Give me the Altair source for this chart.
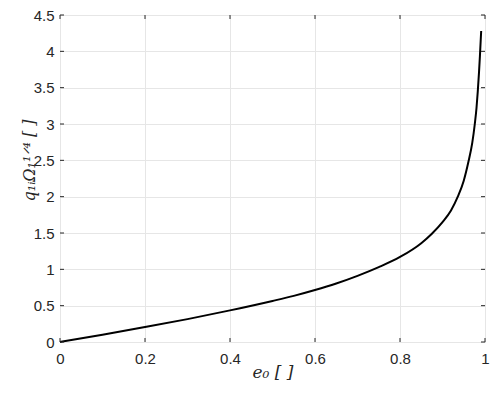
import altair as alt
import pandas as pd

# data
E0 = [0, 0.1, 0.2, 0.3, 0.4, 0.5, 0.55, 0.6, 0.65, 0.7, 0.75, 0.8, 0.85, 0.875, 0.9, 0.92, 0.936, 0.95, 0.961, 0.97, 0.976, 0.98, 0.983, 0.986, 0.988, 0.991]
Q = [0, 0.10, 0.205, 0.315, 0.435, 0.565, 0.635, 0.715, 0.805, 0.91, 1.03, 1.17, 1.36, 1.49, 1.65, 1.81, 2.0, 2.22, 2.48, 2.74, 3.0, 3.22, 3.45, 3.72, 3.93, 4.28]
XTICKS = [0, 0.2, 0.4, 0.6, 0.8, 1.0]
YTICKS = [0, 0.5, 1, 1.5, 2, 2.5, 3, 3.5, 4, 4.5]

W, H = 425, 327
TL = 4
AXC = "#262626"
GRID = "#e6e6e6"
LF = "Liberation Sans"
TF = "DejaVu Serif"

df = pd.DataFrame({"e": E0, "q": Q})
xt = pd.DataFrame({"e": XTICKS})
yt = pd.DataFrame({"q": YTICKS})

xs = alt.Scale(domain=[0, 1], nice=False, zero=False)
ys = alt.Scale(domain=[0, 4.5], nice=False, zero=False)

xaxis = alt.Axis(values=XTICKS, format=".1~f", grid=True, gridColor=GRID, gridWidth=1,
                 ticks=False, domain=False, labelFont=LF, labelFontSize=15, labelColor=AXC,
                 labelPadding=9, labelOverlap=False, labelFlush=False,
                 title="e₀  [ ]", titleFont=TF, titleFontStyle="italic",
                 titleFontWeight="normal", titleFontSize=17, titleColor=AXC,
                 titleY=30, titleBaseline="middle")
yaxis = alt.Axis(values=YTICKS, format=".1~f", grid=True, gridColor=GRID, gridWidth=1,
                 ticks=False, domain=False, labelFont=LF, labelFontSize=15, labelColor=AXC,
                 labelPadding=6, labelOverlap=False, labelFlush=False,
                 title="q₁ᵢΩ₁¹ᐟ⁴ [ ]", titleFont=TF, titleFontStyle="italic",
                 titleFontWeight="normal", titleFontSize=16, titleColor=AXC,
                 titleX=-31, titleY=145, titleAlign="center", titleBaseline="middle",
                 titleAngle=270)

line = alt.Chart(df).mark_line(color="black", strokeWidth=2, interpolate="monotone").encode(
    x=alt.X("e:Q", scale=xs, axis=xaxis),
    y=alt.Y("q:Q", scale=ys, axis=yaxis),
)

xb = alt.Chart(xt).mark_rule(color=AXC, strokeWidth=1).encode(
    x=alt.X("e:Q", scale=xs, axis=xaxis), y=alt.value(H), y2=alt.value(H - TL))
xtp = alt.Chart(xt).mark_rule(color=AXC, strokeWidth=1).encode(
    x=alt.X("e:Q", scale=xs, axis=xaxis), y=alt.value(0), y2=alt.value(TL))
yl = alt.Chart(yt).mark_rule(color=AXC, strokeWidth=1).encode(
    y=alt.Y("q:Q", scale=ys, axis=yaxis), x=alt.value(0), x2=alt.value(TL))
yr = alt.Chart(yt).mark_rule(color=AXC, strokeWidth=1).encode(
    y=alt.Y("q:Q", scale=ys, axis=yaxis), x=alt.value(W), x2=alt.value(W - TL))

chart = alt.layer(line, xb, xtp, yl, yr).properties(
    width=W, height=H,
    autosize=alt.AutoSizeParams(type="none"),
    padding={"left": 52, "top": 7, "right": 5, "bottom": 40},
).configure_view(stroke=AXC, strokeWidth=1).configure(background="white")

chart.save("out.html", embed_options={"renderer": "svg", "actions": False})
